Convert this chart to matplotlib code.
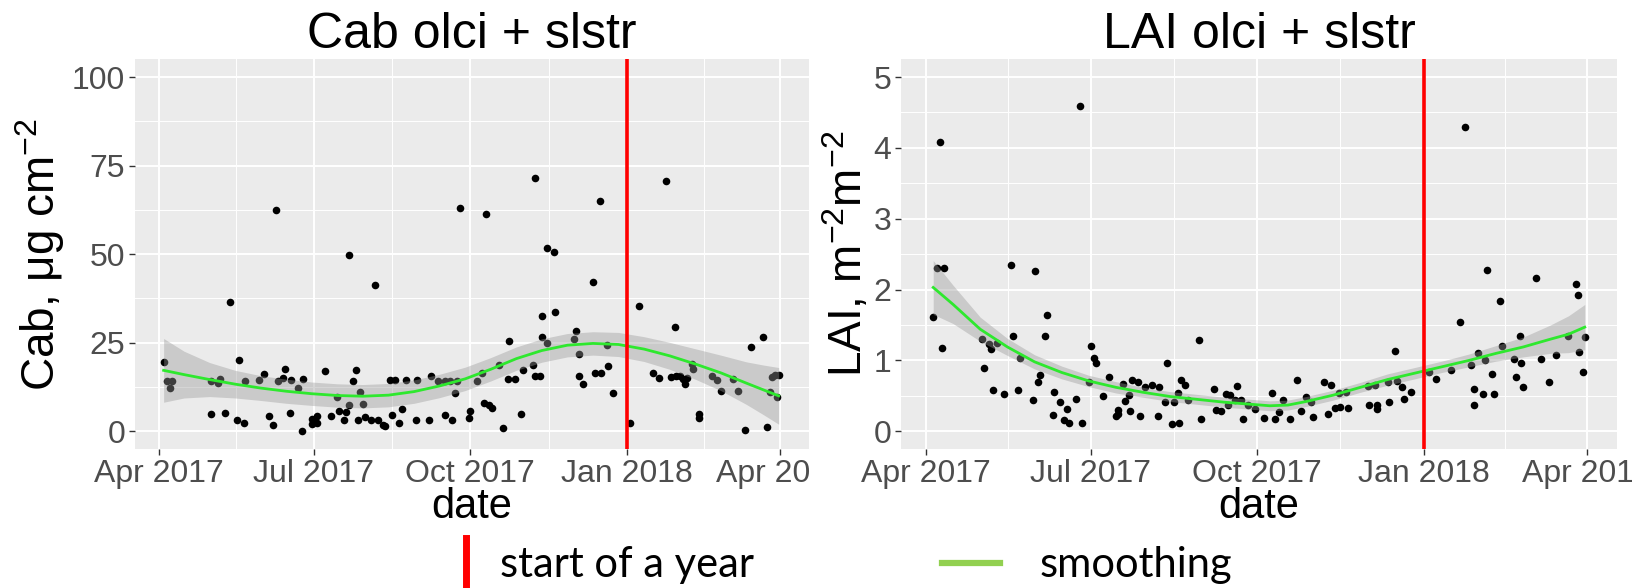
import numpy as np
import matplotlib.pyplot as plt
import matplotlib.dates as mdates
from matplotlib.lines import Line2D
from matplotlib.ticker import FixedLocator
from matplotlib.transforms import Bbox, TransformedBbox

plt.rcParams['font.family'] = ['Liberation Sans', 'DejaVu Sans']
plt.rcParams['mathtext.fontset'] = 'custom'
plt.rcParams['mathtext.rm'] = 'Liberation Sans'
plt.rcParams['mathtext.default'] = 'regular'

# --- data: day = days after 2017-04-01 ---
start = '2017-04-01'
year_start = '2018-01-01'
tick_dates = ['2017-04-01', '2017-07-01', '2017-10-01', '2018-01-01', '2018-04-01']
tick_labels = ['Apr 2017', 'Jul 2017', 'Oct 2017', 'Jan 2018', 'Apr 2018']

cab_day = [3, 5, 8, 7, 31, 31, 35, 36, 42, 39, 47, 46, 50, 51, 59, 62, 65, 67, 69, 70,
           73, 74, 77, 78, 82, 84, 85, 90, 90, 93, 93, 98, 101, 105, 106, 109, 110, 112, 112, 114,
           116, 117, 118, 120, 121, 125, 127, 129, 132, 133, 136, 137, 139, 141, 143, 145, 151, 152, 159, 160,
           164, 168, 168, 171, 172, 174, 175, 177, 182, 183, 187, 190, 191, 192, 194, 196,
           200, 202, 205, 206, 209, 213, 214, 220, 221, 221, 224, 225, 225, 228, 228, 232, 233, 244, 245, 247,
           247, 249, 255, 256, 259, 260, 263, 264, 267, 277, 282, 290, 294, 298, 301, 303, 304, 306, 308, 309,
           310, 313, 314, 317, 317, 325, 328, 330, 337, 340, 344, 348, 355, 357, 359, 360, 362, 363, 364]
cab_val = [19.5, 14.3, 14.3, 12.1, 14.3, 5.0, 13.6, 14.8, 36.6, 5.2, 20.2, 3.3, 2.3, 14.3, 14.5, 16.2, 4.3, 1.9, 62.6, 14.3,
           15.0, 17.6, 5.1, 14.5, 12.1, 0.0, 14.8, 3.5, 2.1, 4.3, 2.4, 17.0, 4.3, 9.6, 5.7, 3.1, 5.4, 49.9, 7.4, 14.3,
           17.2, 3.3, 11.0, 7.8, 4.0, 3.1, 41.4, 3.1, 1.9, 1.6, 14.6, 4.5, 14.6, 2.4, 6.2, 14.6, 3.3, 14.6, 3.1, 15.5,
           14.3, 14.3, 4.5, 14.3, 3.3, 10.8, 14.3, 63.1, 3.8, 5.7, 14.3, 16.4, 8.1, 61.2, 7.4, 6.7,
           18.6, 1.0, 14.8, 25.6, 14.8, 4.8, 17.2, 18.6, 15.5, 71.4, 15.5, 32.5, 26.6, 25.0, 51.6, 50.6, 33.6, 26.0, 28.2, 21.8,
           15.5, 13.4, 42.0, 16.4, 64.9, 16.4, 24.4, 18.3, 10.7, 2.4, 35.3, 16.4, 15.0, 70.6, 15.2, 29.4, 15.5, 15.5, 14.8, 13.4,
           15.0, 19.1, 17.7, 5.0, 3.8, 15.5, 14.5, 11.5, 14.8, 11.5, 0.5, 23.9, 26.7, 1.1, 11.0, 15.3, 15.8, 9.7, 16.0]

lai_day = [4, 6, 8, 9, 10, 31, 32, 35, 36, 37, 39, 43, 47, 48, 51, 52, 59, 60, 62, 63,
           66, 67, 70, 71, 74, 76, 78, 79, 83, 85, 86, 90, 91, 93, 94, 98, 101, 105, 106, 106,
           109, 110, 112, 113, 114, 117, 118, 121, 125, 128, 129, 132, 133, 136, 137, 139, 140, 141, 143, 145,
           151, 152, 159, 160, 163, 166, 167, 168, 171, 172, 174, 175, 178, 182, 187, 191, 193, 195, 197, 201,
           205, 207, 210, 213, 214, 220, 222, 224, 226, 228, 229, 232, 233, 244, 245, 248, 249, 249, 255, 256,
           259, 260, 263, 264, 268, 278, 282, 290, 295, 298, 301, 303, 303, 305, 308, 309, 310, 313, 314, 317,
           318, 325, 326, 328, 329, 330, 337, 340, 344, 348, 355, 359, 360, 361, 363, 364]
lai_val = [1.62, 2.30, 4.08, 1.18, 2.31, 1.30, 0.90, 1.23, 1.16, 0.58, 1.24, 0.53, 2.34, 1.34, 0.58, 1.03, 0.44, 2.26, 0.69, 0.79,
           1.34, 1.64, 0.23, 0.56, 0.42, 0.16, 0.31, 0.11, 0.45, 4.59, 0.11, 0.70, 1.20, 1.03, 0.97, 0.50, 0.77, 0.22, 0.30, 0.24,
           0.67, 0.43, 0.51, 0.28, 0.73, 0.70, 0.21, 0.63, 0.66, 0.22, 0.63, 0.42, 0.96, 0.10, 0.42, 0.54, 0.12, 0.72, 0.66, 0.44,
           1.29, 0.17, 0.60, 0.30, 0.29, 0.53, 0.37, 0.51, 0.44, 0.64, 0.44, 0.17, 0.37, 0.32, 0.19, 0.54, 0.18, 0.27, 0.44, 0.18,
           0.72, 0.29, 0.49, 0.42, 0.20, 0.70, 0.24, 0.66, 0.33, 0.54, 0.34, 0.56, 0.33, 0.64, 0.37, 0.65, 0.37, 0.32, 0.69, 0.42,
           1.14, 0.71, 0.62, 0.46, 0.55, 0.84, 0.74, 0.86, 1.54, 4.30, 0.93, 0.60, 0.37, 1.10, 0.52, 1.00, 2.28, 0.81, 0.53, 1.84,
           1.21, 1.02, 0.76, 1.34, 0.96, 0.62, 2.17, 1.02, 0.70, 1.07, 1.34, 2.08, 1.92, 1.12, 0.84, 1.33]

# smoothing curves (loess) and half width of the confidence band
cab_fit_day = [3, 15, 30, 45, 60, 75, 90, 105, 120, 135, 150, 165, 180, 195, 210, 225, 240, 255, 270, 285,
               300, 315, 330, 345, 355, 364]
cab_fit = [17.2, 16.0, 14.6, 13.3, 12.2, 11.3, 10.6, 10.1, 9.9, 10.2, 11.2, 12.8, 14.8, 17.5, 20.5, 22.8,
           24.3, 24.8, 24.5, 23.2, 21.3, 19.0, 16.5, 13.6, 11.7, 10.0]
cab_se = [9.0, 6.6, 4.8, 3.9, 3.5, 3.4, 3.3, 3.3, 3.3, 3.3, 3.3, 3.3, 3.3, 3.3, 3.3, 3.3,
          3.3, 3.3, 3.4, 3.5, 3.8, 4.3, 5.0, 6.0, 7.0, 8.0]

lai_fit_day = [4, 15, 30, 45, 60, 75, 90, 105, 120, 135, 150, 165, 180, 190, 200, 210, 225, 240, 255, 270,
               285, 300, 315, 330, 345, 355, 364]
lai_fit = [2.03, 1.79, 1.44, 1.19, 0.98, 0.83, 0.71, 0.62, 0.55, 0.49, 0.45, 0.41, 0.38, 0.36, 0.37, 0.42,
           0.51, 0.62, 0.73, 0.82, 0.91, 1.00, 1.10, 1.19, 1.30, 1.37, 1.47]
lai_se = [0.38, 0.27, 0.17, 0.12, 0.10, 0.09, 0.08, 0.08, 0.07, 0.07, 0.07, 0.07, 0.07, 0.07, 0.07, 0.07,
          0.07, 0.07, 0.08, 0.08, 0.08, 0.09, 0.11, 0.14, 0.20, 0.26, 0.32]

W, H = 1633, 588
fig = plt.figure(figsize=(W / 100, H / 100), dpi=100)

x0 = mdates.date2num(np.datetime64(start))
xticks = [mdates.date2num(np.datetime64(d)) for d in tick_dates]
xminor = [(a + b) / 2 for a, b in zip(xticks[:-1], xticks[1:])]
xline = mdates.date2num(np.datetime64(year_start))


def panel(rect, days, vals, fday, fit, se, ylim, yticks, yminor, title, ylabel, ylab_x):
    ax = fig.add_axes(rect)
    ax.set_facecolor('#EBEBEB')
    for s in ax.spines.values():
        s.set_visible(False)
    x = x0 + np.array(days)
    fx = x0 + np.array(fday)
    fit = np.array(fit)
    se = np.array(se)
    ax.scatter(x, vals, s=30, c='black', linewidths=0, zorder=2)
    ax.fill_between(fx, fit - se, fit + se, color='#999999', alpha=0.4, lw=0, zorder=3)
    ax.plot(fx, fit, color='#2ee82e', lw=2, zorder=4)
    ax.axvline(xline, color='red', lw=2.6, zorder=5)

    ax.set_xlim(x0 - 13.8, x0 + 381.8)
    ax.set_ylim(*ylim)
    ax.set_xticks(xticks)
    ax.set_xticklabels(tick_labels)
    ax.set_yticks(yticks)
    ax.xaxis.set_minor_locator(FixedLocator(xminor))
    ax.yaxis.set_minor_locator(FixedLocator(yminor))
    ax.grid(which='major', color='white', lw=1.4)
    ax.grid(which='minor', color='white', lw=0.7)
    ax.set_axisbelow(True)
    ax.tick_params(which='major', length=4, width=1, color='#333333',
                   labelsize=23, labelcolor='#4D4D4D', pad=3)
    ax.tick_params(which='minor', length=0)

    ax.set_title(title, fontsize=36, pad=8)
    ax.set_xlabel('date', fontsize=30)
    ax.xaxis.label.set_va('baseline')
    ax.xaxis.set_label_coords(0.5, -69 / 389.7)
    ax.set_ylabel(ylabel, fontsize=33)
    ax.yaxis.label.set_va('baseline')
    ax.yaxis.set_label_coords(ylab_x, 0.5)
    return ax


ax1 = panel([135 / W, 1 - 449 / H, 674 / W, 389.7 / H], cab_day, cab_val,
            cab_fit_day, cab_fit, cab_se, (-5, 105), [0, 25, 50, 75, 100],
            [12.5, 37.5, 62.5, 87.5], 'Cab olci + slstr', 'Cab, μg cm$^{-2}$', (55 - 135) / 674)
ax2 = panel([901 / W, 1 - 449 / H, 716 / W, 389.7 / H], lai_day, lai_val,
            lai_fit_day, lai_fit, lai_se, (-0.25, 5.25), [0, 1, 2, 3, 4, 5],
            [0.5, 1.5, 2.5, 3.5, 4.5], 'LAI olci + slstr', 'LAI, m$^{-2}$m$^{-2}$', (862 - 901) / 716)

# left panel's last tick label is cut where the right chart starts
clip = TransformedBbox(Bbox([[0, 0], [810 / W, 1]]), fig.transFigure)
for lab in ax1.get_xticklabels():
    lab.set_clip_box(clip)
    lab.set_clip_on(True)

# legend drawn under the charts
fig.add_artist(Line2D([466 / W, 466 / W], [1 - 538 / H, 0], color='#FF0000', lw=5))
fig.text(500 / W, 1 - 577 / H, 'start of a year', fontsize=30, family='Lato', va='baseline')
fig.add_artist(Line2D([942 / W, 1000 / W], [1 - 563 / H, 1 - 563 / H], color='#92D050', lw=4.5))
fig.text(1040 / W, 1 - 577 / H, 'smoothing', fontsize=30, family='Lato', va='baseline')

fig.savefig('out.png', dpi=100)
